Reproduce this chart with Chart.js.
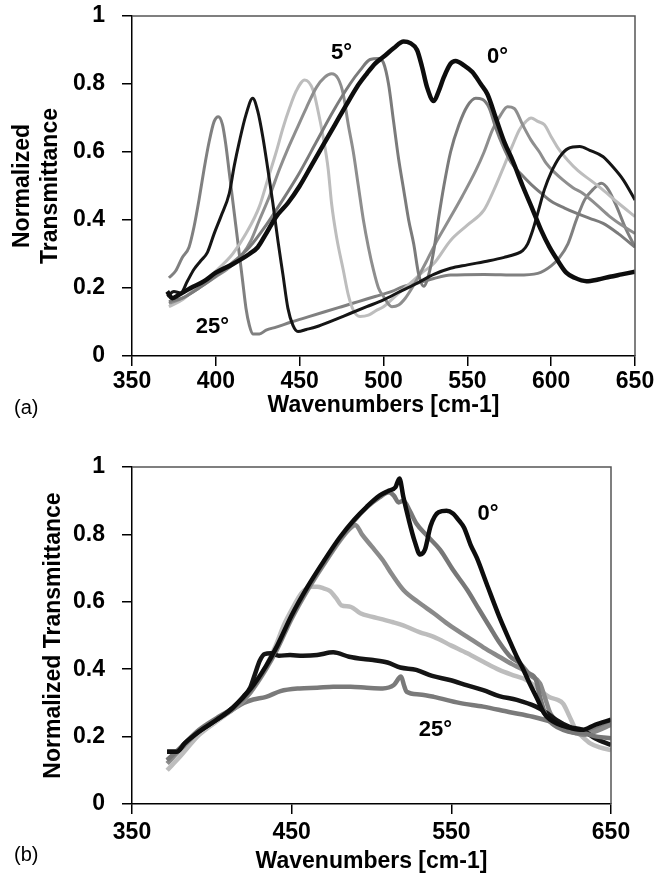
<!DOCTYPE html>
<html>
<head>
<meta charset="utf-8">
<script src="https://cdn.jsdelivr.net/npm/chart.js@4.4.0/dist/chart.umd.min.js"></script>
<style>
  html, body { margin: 0; padding: 0; background: #fff; }
  .panel { position: absolute; left: 0; }
</style>
</head>
<body>
<div class="panel" style="top:0"><canvas id="chart-a" width="654" height="430"></canvas></div>
<div class="panel" style="top:430px"><canvas id="chart-b" width="654" height="449"></canvas></div>
<script>
// ---- tick labels ----
const xTicksA = [350, 400, 450, 500, 550, 600, 650];
const xTicksB = [350, 450, 550, 650];
const yTicks = [0, 0.2, 0.4, 0.6, 0.8, 1];

// ---- panel (a): transmittance vs wavenumber, one curve per angle ----
const a0x = [371, 374, 378, 385, 393, 400, 410, 420, 425, 430, 436, 443, 450, 457, 464, 471, 478, 484, 490, 495, 500, 506, 512, 516, 520, 523, 526, 530, 533, 536, 540, 543, 548, 553, 558, 562, 567, 572, 577, 583, 589, 594, 599, 604, 609, 614, 621, 628, 635, 642, 650];
const a0y = [0.19, 0.17, 0.18, 0.2, 0.22, 0.245, 0.27, 0.3, 0.32, 0.36, 0.41, 0.45, 0.5, 0.56, 0.62, 0.68, 0.74, 0.79, 0.83, 0.86, 0.88, 0.905, 0.925, 0.92, 0.9, 0.85, 0.79, 0.75, 0.78, 0.82, 0.86, 0.868, 0.855, 0.835, 0.8, 0.77, 0.7, 0.63, 0.575, 0.5, 0.43, 0.37, 0.32, 0.28, 0.245, 0.23, 0.22, 0.225, 0.233, 0.24, 0.248];

const a5x = [372, 380, 390, 400, 410, 420, 430, 440, 450, 460, 470, 480, 486, 492, 497, 500, 503, 506, 509, 512, 515, 518, 521, 524, 527, 530, 533, 536, 540, 545, 550, 555, 559, 563, 567, 571, 576, 582, 588, 595, 600, 608, 615, 623, 631, 640, 650];
const a5y = [0.16, 0.17, 0.2, 0.235, 0.275, 0.32, 0.385, 0.46, 0.54, 0.63, 0.72, 0.8, 0.84, 0.872, 0.875, 0.862, 0.8, 0.69, 0.58, 0.49, 0.4, 0.33, 0.24, 0.205, 0.24, 0.31, 0.41, 0.5, 0.6, 0.68, 0.735, 0.758, 0.755, 0.73, 0.67, 0.62, 0.57, 0.535, 0.505, 0.475, 0.455, 0.435, 0.42, 0.405, 0.39, 0.36, 0.32];

const a10x = [372, 380, 390, 400, 408, 416, 421, 426, 432, 438, 443, 448, 454, 460, 465, 469, 473, 476, 479, 482, 485, 488, 491, 494, 497, 500, 505, 509, 513, 517, 521, 526, 532, 539, 547, 555, 560, 565, 570, 574, 578, 583, 588, 593, 597, 602, 607, 613, 619, 627, 635, 642, 650];
const a10y = [0.155, 0.17, 0.2, 0.233, 0.26, 0.3, 0.34, 0.4, 0.47, 0.55, 0.61, 0.665, 0.73, 0.79, 0.82, 0.83, 0.815, 0.77, 0.68, 0.6, 0.5, 0.4, 0.32, 0.253, 0.2, 0.175, 0.145, 0.15, 0.17, 0.2, 0.235, 0.282, 0.34, 0.4, 0.47, 0.545, 0.6, 0.665, 0.71, 0.733, 0.728, 0.68, 0.635, 0.6, 0.567, 0.54, 0.518, 0.495, 0.478, 0.445, 0.41, 0.385, 0.36];

const a15x = [372, 380, 390, 400, 410, 418, 426, 431, 436, 440, 444, 448, 453, 458, 461, 464, 467, 469, 472, 476, 479, 482, 486, 491, 496, 500, 508, 516, 523, 530, 540, 550, 560, 566, 572, 577, 581, 585, 588, 592, 596, 600, 604, 610, 616, 624, 631, 640, 650];
const a15y = [0.145, 0.165, 0.21, 0.25, 0.3, 0.36, 0.44, 0.52, 0.6, 0.67, 0.73, 0.78, 0.812, 0.782, 0.72, 0.645, 0.55, 0.45, 0.35, 0.253, 0.18, 0.135, 0.116, 0.12, 0.135, 0.145, 0.18, 0.214, 0.245, 0.272, 0.34, 0.385, 0.43, 0.49, 0.56, 0.62, 0.665, 0.69, 0.7, 0.69, 0.68, 0.645, 0.612, 0.575, 0.545, 0.515, 0.488, 0.45, 0.41];

const a20x = [371, 375, 379, 383, 387, 391, 395, 399, 403, 408, 411, 414, 418, 422, 425, 428, 431, 434, 437, 440, 443, 446, 449, 454, 460, 470, 480, 490, 500, 510, 520, 530, 540, 550, 563, 572, 579, 583, 586, 589, 592, 596, 600, 605, 610, 617, 623, 631, 637, 643, 650];
const a20y = [0.175, 0.19, 0.185, 0.22, 0.255, 0.28, 0.305, 0.36, 0.41, 0.478, 0.56, 0.63, 0.71, 0.758, 0.72, 0.645, 0.55, 0.45, 0.34, 0.24, 0.14, 0.09, 0.072, 0.078, 0.086, 0.105, 0.125, 0.145, 0.165, 0.19, 0.214, 0.24, 0.258, 0.268, 0.28, 0.29, 0.3, 0.31, 0.33, 0.37, 0.42, 0.49, 0.54, 0.585, 0.61, 0.616, 0.605, 0.586, 0.555, 0.518, 0.459];

const a25x = [372, 376, 380, 384, 387, 390, 393, 396, 399, 401.5, 404, 406, 408, 410, 412, 414, 416, 418, 420, 422, 426, 430, 436, 445, 455, 465, 475, 485, 495, 505, 512, 520, 530, 540, 560, 580, 592, 600, 605, 610, 615, 620, 625, 630, 634, 639, 644, 650];
const a25y = [0.23, 0.25, 0.29, 0.32, 0.38, 0.46, 0.55, 0.63, 0.69, 0.704, 0.68, 0.62, 0.54, 0.46, 0.38, 0.3, 0.22, 0.14, 0.09, 0.065, 0.065, 0.076, 0.085, 0.1, 0.115, 0.13, 0.145, 0.16, 0.175, 0.19, 0.205, 0.214, 0.228, 0.238, 0.24, 0.238, 0.243, 0.265, 0.29, 0.33, 0.4, 0.46, 0.49, 0.508, 0.49, 0.44, 0.38, 0.32];

// ---- panel (b) ----
const b0x = [372, 378, 383, 392, 403, 413, 424, 434, 441, 450, 460, 470, 480, 489, 497, 505, 511, 515, 517.5, 520, 523, 527, 530.5, 533.5, 537, 542, 547, 551, 555, 558, 562, 566, 572, 580, 586, 591, 595, 599, 604, 608, 612, 616, 620, 625, 632, 640, 650];
const b0y = [0.155, 0.155, 0.18, 0.215, 0.25, 0.285, 0.34, 0.41, 0.47, 0.56, 0.645, 0.72, 0.79, 0.843, 0.882, 0.915, 0.93, 0.94, 0.966, 0.91, 0.85, 0.78, 0.74, 0.755, 0.825, 0.866, 0.87, 0.862, 0.84, 0.82, 0.77, 0.73, 0.655, 0.556, 0.49, 0.437, 0.4, 0.358, 0.31, 0.27, 0.25, 0.239, 0.232, 0.225, 0.22, 0.235, 0.25];

const b5x = [372, 382, 392, 403, 413, 424, 434, 441, 450, 460, 470, 480, 489, 497, 505, 511, 514, 517, 520, 524, 528, 535, 543, 551, 560, 567, 574, 580, 587, 593, 598, 603, 605.5, 609.5, 614, 620, 626, 633, 641, 650];
const b5y = [0.13, 0.175, 0.22, 0.255, 0.285, 0.335, 0.405, 0.465, 0.555, 0.64, 0.715, 0.785, 0.84, 0.88, 0.91, 0.925, 0.915, 0.895, 0.9, 0.87, 0.833, 0.795, 0.754, 0.695, 0.635, 0.58, 0.526, 0.48, 0.437, 0.417, 0.39, 0.368, 0.318, 0.259, 0.235, 0.22, 0.212, 0.21, 0.2, 0.195];

const b10x = [372, 382, 392, 403, 413, 424, 434, 441, 450, 460, 470, 480, 486, 490, 494, 500, 507, 513, 520, 529, 539, 549, 560, 570, 580, 588, 595, 600, 605.5, 609, 612, 617, 622, 628, 633, 640, 650];
const b10y = [0.12, 0.17, 0.215, 0.25, 0.28, 0.33, 0.4, 0.46, 0.55, 0.635, 0.71, 0.78, 0.815, 0.828, 0.8, 0.765, 0.724, 0.68, 0.635, 0.6, 0.566, 0.53, 0.496, 0.465, 0.437, 0.415, 0.398, 0.38, 0.358, 0.31, 0.269, 0.24, 0.22, 0.21, 0.205, 0.215, 0.235];

const b15x = [372, 380, 392, 403, 413, 424, 434, 440, 445, 451, 456, 462, 466, 470, 474, 478, 481, 487, 493, 500, 507, 513, 518, 522, 530, 539, 550, 560, 570, 580, 590, 597, 605, 611, 616, 620, 624, 628, 632, 637, 643, 650];
const b15y = [0.1, 0.14, 0.205, 0.245, 0.28, 0.33, 0.41, 0.47, 0.53, 0.585, 0.625, 0.645, 0.645, 0.64, 0.632, 0.61, 0.59, 0.585, 0.566, 0.556, 0.548, 0.54, 0.533, 0.526, 0.51, 0.496, 0.47, 0.447, 0.422, 0.398, 0.38, 0.368, 0.34, 0.318, 0.31, 0.298, 0.26, 0.22, 0.2, 0.18, 0.168, 0.16];

const b20x = [372, 378, 383, 392, 403, 413, 420, 424, 427, 430, 433, 437, 442, 449, 457, 466, 476, 486, 495, 501, 510, 518, 528, 538, 549, 560, 570, 580, 591, 603, 610, 616, 624, 632, 640, 650];
const b20y = [0.155, 0.155, 0.18, 0.215, 0.25, 0.285, 0.32, 0.345, 0.385, 0.425, 0.445, 0.447, 0.44, 0.442, 0.44, 0.442, 0.45, 0.437, 0.43, 0.427, 0.42, 0.405, 0.398, 0.38, 0.368, 0.352, 0.338, 0.32, 0.309, 0.289, 0.27, 0.249, 0.229, 0.22, 0.195, 0.175];

const b25x = [372, 382, 392, 403, 413, 420, 426, 434, 443, 455, 466, 476, 487, 497, 507, 514, 518.5, 520.5, 522, 530, 539, 555, 570, 586, 601, 616, 628, 634, 642, 650];
const b25y = [0.13, 0.17, 0.215, 0.25, 0.28, 0.3, 0.31, 0.318, 0.335, 0.343, 0.345, 0.348, 0.348, 0.345, 0.343, 0.353, 0.378, 0.35, 0.333, 0.325, 0.318, 0.3, 0.289, 0.273, 0.259, 0.239, 0.22, 0.215, 0.225, 0.24];

// angle labels next to the curves (text, wavenumber, transmittance)
const notesTextA = ['5°', '0°', '25°'];
const notesXA = [475, 568, 398];
const notesYA = [0.89, 0.88, 0.086];
const notesTextB = ['0°', '25°'];
const notesXB = [573, 540];
const notesYB = [0.862, 0.22];

const FONT = '"Liberation Sans", Arial, Helvetica, sans-serif';
Chart.defaults.font.family = FONT;
Chart.defaults.color = '#000';

function series(xs, ys, color, width) {
    return {
        data: xs.map((x, i) => ({ x: x, y: ys[i] })),
        borderColor: color,
        borderWidth: width,
        pointRadius: 0,
        fill: false,
        cubicInterpolationMode: 'monotone'
    };
}

function notes(texts, xs, ys) {
    return texts.map((t, i) => ({ text: t, x: xs[i], y: ys[i] }));
}

// box edges on top/right, angle labels and the panel tag
const decorPlugin = {
    id: 'decor',
    afterDatasetsDraw(chart, args, opts) {
        const { ctx, chartArea } = chart;
        const xs = chart.scales.x;
        const ys = chart.scales.y;
        ctx.save();
        ctx.strokeStyle = '#555';
        ctx.lineWidth = 1.5;
        ctx.beginPath();
        ctx.moveTo(chartArea.left, chartArea.top);
        ctx.lineTo(chartArea.right, chartArea.top);
        ctx.lineTo(chartArea.right, chartArea.bottom);
        ctx.stroke();

        ctx.fillStyle = '#000';
        ctx.font = 'bold 22px ' + FONT;
        ctx.textAlign = 'center';
        ctx.textBaseline = 'middle';
        opts.notes.forEach(n => {
            ctx.fillText(n.text, xs.getPixelForValue(n.x), ys.getPixelForValue(n.y));
        });

        ctx.font = '20px ' + FONT;
        ctx.textAlign = 'left';
        ctx.fillText(opts.tag, opts.tagX, opts.tagY);
        ctx.restore();
    }
};

function scales(cfg) {
    const tickFont = { size: 23, weight: 'bold' };
    const titleFont = { size: 23, weight: 'bold', lineHeight: 1.25 };
    const grid = { drawOnChartArea: false, drawTicks: true, tickLength: 10, color: '#000', lineWidth: 1.5 };
    return {
        x: {
            type: 'linear',
            min: 350,
            max: 650,
            afterBuildTicks: s => { s.ticks = cfg.xTicks.map(v => ({ value: v })); },
            // fixed axis height, and keep the end labels from pushing the plot inwards
            afterFit: s => { s.height = cfg.xHeight; s.paddingLeft = 0; s.paddingRight = 0; },
            ticks: { font: tickFont, color: '#000', padding: cfg.xTickPad, maxRotation: 0, autoSkip: false, callback: v => String(v) },
            grid: grid,
            border: { display: true, color: '#000', width: 1.5 },
            title: { display: true, text: 'Wavenumbers [cm-1]', color: '#000', font: titleFont, padding: { top: 0, bottom: cfg.xTitlePad } }
        },
        y: {
            min: 0,
            max: 1,
            afterBuildTicks: s => { s.ticks = yTicks.map(v => ({ value: v })); },
            afterFit: s => { s.width = 132; s.paddingTop = 0; s.paddingBottom = 0; },
            ticks: { font: tickFont, color: '#000', padding: 17, callback: v => String(v) },
            grid: grid,
            border: { display: true, color: '#000', width: 1.5 },
            title: { display: true, text: cfg.yTitle, color: '#000', font: titleFont, padding: { top: cfg.yTitlePad, bottom: 0 } }
        }
    };
}

new Chart(document.getElementById('chart-a'), {
    type: 'line',
    data: {
        datasets: [
            series(a0x, a0y, '#0d0d0d', 4.5),
            series(a20x, a20y, '#151515', 3),
            series(a5x, a5y, '#7b7b7b', 3),
            series(a10x, a10y, '#8e8e8e', 3),
            series(a15x, a15y, '#bdbdbd', 3),
            series(a25x, a25y, '#808080', 3)
        ]
    },
    options: {
        responsive: false,
        animation: false,
        devicePixelRatio: 1,
        layout: { padding: { top: 16, right: 19, bottom: 0, left: 0 } },
        plugins: {
            legend: { display: false },
            tooltip: { enabled: false },
            decor: { notes: notes(notesTextA, notesXA, notesYA), tag: '(a)', tagX: 14, tagY: 408 }
        },
        scales: scales({ xTicks: xTicksA, xHeight: 74, xTickPad: 2, xTitlePad: 10, yTitle: ['Normalized', 'Transmittance'], yTitlePad: 8 })
    },
    plugins: [decorPlugin]
});

new Chart(document.getElementById('chart-b'), {
    type: 'line',
    data: {
        datasets: [
            series(b0x, b0y, '#0d0d0d', 4.5),
            series(b5x, b5y, '#777777', 4.5),
            series(b20x, b20y, '#151515', 4.5),
            series(b10x, b10y, '#8a8a8a', 4.5),
            series(b15x, b15y, '#bdbdbd', 4.5),
            series(b25x, b25y, '#7a7a7a', 4.5)
        ]
    },
    options: {
        responsive: false,
        animation: false,
        devicePixelRatio: 1,
        layout: { padding: { top: 37, right: 43, bottom: 0, left: 0 } },
        plugins: {
            legend: { display: false },
            tooltip: { enabled: false },
            decor: { notes: notes(notesTextB, notesXB, notesYB), tag: '(b)', tagX: 14, tagY: 425 }
        },
        scales: scales({ xTicks: xTicksB, xHeight: 75, xTickPad: 5, xTitlePad: 3, yTitle: 'Normalized Transmittance', yTitlePad: 39 })
    },
    plugins: [decorPlugin]
});
</script>
</body>
</html>
